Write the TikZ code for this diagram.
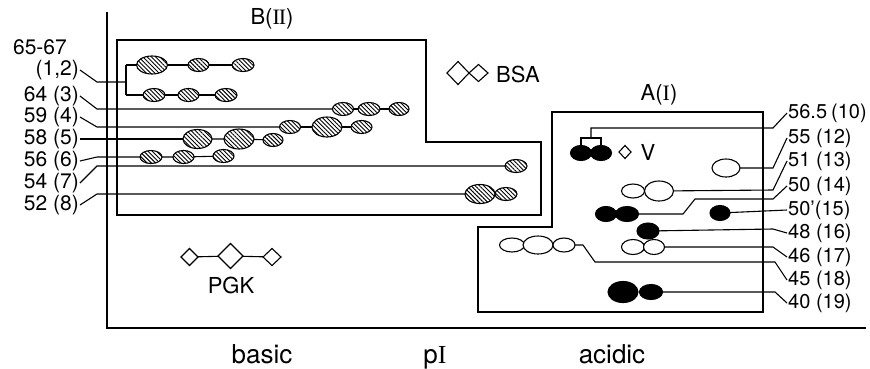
\documentclass[tikz,border=0pt]{standalone}
\usepackage{fontspec}
\setmainfont{TeX Gyre Heros}
\newfontfamily\romfont{Liberation Serif}
\usetikzlibrary{shapes.geometric,patterns.meta}
\begin{document}
\begin{tikzpicture}[x=1pt,y=-1pt,
  sz/.style 2 args={minimum width=#1pt,minimum height=#2pt},
  spot/.style={ellipse,draw,line width=1.1pt,inner sep=0pt,outer sep=0pt},
  hat/.style={spot,pattern={Lines[angle=-45,distance=3pt,line width=0.9pt]}},
  blk/.style={spot,fill=black},
  opn/.style={spot,fill=white},
  ln/.style={line width=1.1pt},
  frame/.style={line width=1.5pt},
  lab/.style={font=\fontsize{21}{21}\selectfont,inner sep=1pt},
  rlab/.style={font=\fontsize{20}{20}\selectfont,inner sep=1pt,anchor=west},
  word/.style={font=\fontsize{22}{22}\selectfont,inner sep=0pt},
  axword/.style={font=\fontsize{26}{26}\selectfont,inner sep=0pt,anchor=base},
  dia/.style={diamond,draw,line width=1.1pt,inner sep=0pt,outer sep=0pt,fill=white},
]
\useasboundingbox (0,0) rectangle (870,368);
\fill[white] (0,0) rectangle (870,368);

% axes
\coordinate (ax0) at (107,12);
\coordinate (ax1) at (107,328);
\coordinate (ax2) at (866,328);
\draw[frame] (ax0) -- (ax1) -- (ax2);

% boxes
\draw[frame] (117,40) -- (426,40) -- (426,142) -- (541,142) -- (541,215) -- (117,215) -- cycle;
\draw[frame] (552,112) -- (763,112) -- (763,312) -- (478,312) -- (478,227) -- (552,227) -- cycle;

% titles
\node[word] (tB) at (272,19) {B({\romfont I\kern-0.05em I})};
\node[word] (tA) at (659,95) {A({\romfont I})};
\node[axword] (basic) at (262,363) {basic};
\node[axword] (pI) at (435,363) {p{\romfont I}};
\node[axword] (acidic) at (612,363) {acidic};

% BSA
\node[dia,sz={22}{23}] (bsa1) at (458,73) {};
\node[dia,sz={19}{17}] (bsa2) at (478.5,73) {};
\node[word] (bsa) at (518,74) {BSA};

% PGK
\node[dia,sz={17}{17}] (p1) at (189.5,257) {};
\node[dia,sz={25}{25}] (p2) at (230.5,256) {};
\node[dia,sz={18}{17}] (p3) at (272,257) {};
\draw[ln] (p1) -- (p2) (p2) -- (p3);
\node[word] (pgk) at (231,285) {PGK};

% V
\node[dia,sz={12}{13}] (vd) at (625,152) {};
\node[word] (v) at (648,152) {V};

% ---------- B spots
\node[hat,sz={31}{18}] (a1) at (152,65) {};
\node[hat,sz={21}{13}] (a2) at (198.5,65) {};
\node[hat,sz={22}{13}] (a3) at (243,65) {};
\node[hat,sz={22}{13}] (b1) at (154,95) {};
\node[hat,sz={21}{13}] (b2) at (188.5,95) {};
\node[hat,sz={22}{13}] (b3) at (226,95) {};
\node[hat,sz={21}{13}] (c1) at (343,109) {};
\node[hat,sz={22}{13}] (c2) at (369,109) {};
\node[hat,sz={20}{13}] (c3) at (399,109) {};
\node[hat,sz={21}{13}] (d1) at (290,127) {};
\node[hat,sz={30}{20}] (d2) at (327,127) {};
\node[hat,sz={21}{13}] (d3) at (361.5,127) {};
\node[hat,sz={29}{19}] (e1) at (197.5,139) {};
\node[hat,sz={30}{20}] (e2) at (239,139) {};
\node[hat,sz={20}{13}] (e3) at (273,140) {};
\node[hat,sz={22}{13}] (f1) at (151,157) {};
\node[hat,sz={21}{13}] (f2) at (183.5,157) {};
\node[hat,sz={21}{13}] (f3) at (223.5,156) {};
\node[hat,sz={22}{13}] (g1) at (516,166) {};
\node[hat,sz={22}{13}] (h2) at (506,194) {};
\node[hat,sz={30}{19}] (h1) at (480,194) {};

\draw[ln] (a1) -- (a2) (a2) -- (a3);
\draw[ln] (b1) -- (b2) (b2) -- (b3);
\draw[ln] (c1) -- (c2) (c2) -- (c3);
\draw[ln] (d1) -- (d2) (d2) -- (d3);
\draw[ln] (e1) -- (e2) (e2) -- (e3);
\draw[ln] (f1) -- (f2) (f2) -- (f3);

% left labels
\node[lab,anchor=east] (t0) at (68,47) {65-67};
\node[lab,anchor=east] (t12) at (80,70) {(1,2)};
\node[lab,anchor=east] (t3) at (80,96) {64 (3)};
\node[lab,anchor=east] (t4) at (80,117) {59 (4)};
\node[lab,anchor=east] (t5) at (80,139) {58 (5)};
\node[lab,anchor=east] (t6) at (80,161) {56 (6)};
\node[lab,anchor=east] (t7) at (80,183) {54 (7)};
\node[lab,anchor=east] (t8) at (80,205) {52 (8)};

\coordinate (k12) at (97,82);
\coordinate (j12) at (126,82);
\coordinate (ja) at (126,65);
\coordinate (jb) at (126,95);
\coordinate (k3) at (97,109);
\coordinate (k4) at (97,127);
\coordinate (k6) at (97,157);
\coordinate (k7) at (97,166);
\coordinate (k8) at (97,194);

\draw[ln] (t12.east) -- (k12) -- (j12);
\draw[ln] (ja) -- (jb);
\draw[ln] (ja) -- (a1.west);
\draw[ln] (jb) -- (b1.west);
\draw[ln] (t3.east) -- (k3) -- (c1.west);
\draw[ln] (t4.east) -- (k4) -- (d1.west);
\draw[ln] (t5.east) -- (e1.west);
\draw[ln] (t6.east) -- (k6) -- (f1.west);
\draw[ln] (t7.east) -- (k7) -- (g1.west);
\draw[ln] (t8.east) -- (k8) -- (h1.west);

% ---------- A spots
\node[blk,sz={21}{15}] (s10a) at (581,153) {};
\node[blk,sz={21}{15}] (s10b) at (601,153) {};
\node[opn,sz={28}{18}] (s12) at (726,168) {};
\node[opn,sz={23}{14}] (s13a) at (633,191) {};
\node[opn,sz={29}{20}] (s13b) at (659,191) {};
\node[blk,sz={21}{15}] (s14a) at (606,214) {};
\node[blk,sz={23}{15}] (s14b) at (627,214) {};
\node[blk,sz={20}{15}] (s15) at (720,213) {};
\node[blk,sz={22}{16}] (s16) at (648,231) {};
\node[opn,sz={23}{15}] (s17a) at (633,247) {};
\node[opn,sz={21}{15}] (s17b) at (654,247) {};
\node[opn,sz={25}{14}] (s18a) at (512,245) {};
\node[opn,sz={30}{18}] (s18b) at (538,245) {};
\node[opn,sz={22}{14}] (s18c) at (564,245) {};
\node[blk,sz={30}{21}] (s19a) at (623,292) {};
\node[blk,sz={23}{15}] (s19b) at (651,292) {};

% right labels
\node[rlab] (r10) at (787,113) {56.5\kern0.2em(10)};
\node[rlab] (r12) at (787,138) {55 (12)};
\node[rlab] (r13) at (787,161) {51 (13)};
\node[rlab] (r14) at (787,186) {50 (14)};
\node[rlab] (r15) at (787,210) {50'(15)};
\node[rlab] (r16) at (787,233) {48 (16)};
\node[rlab] (r17) at (787,257) {46 (17)};
\node[rlab] (r18) at (787,280) {45 (18)};
\node[rlab] (r19) at (787,303) {40 (19)};

\coordinate (q3) at (591,138);
\coordinate (q4) at (591,128);
\coordinate (q5) at (773,128);
\draw[ln] (s10a.north) |- (q3) -| (s10b.north);
\draw[ln] (q3) -- (q4) -- (q5) -- (r10.west);

\coordinate (m12) at (773,168);
\draw[ln] (s12) -- (m12) -- (r12.west);

\coordinate (m13) at (773,190);
\draw[ln] (s13b) -- (m13) -- (r13.west);

\coordinate (m14a) at (683,214);
\coordinate (m14b) at (695,199);
\coordinate (m14c) at (773,199);
\draw[ln] (s14b) -- (m14a) -- (m14b) -- (m14c) -- (r14.west);

\draw[ln] (s15) -- (r15.west);

\coordinate (m16) at (773,229);
\draw[ln] (s16) -- (m16) -- (r16.west);

\coordinate (m17) at (773,247);
\draw[ln] (s17b) -- (m17) -- (r17.west);

\coordinate (m18a) at (583,245);
\coordinate (m18b) at (595,262);
\coordinate (m18c) at (775,262);
\draw[ln] (s18c) -- (m18a) -- (m18b) -- (m18c) -- (r18.west);

\coordinate (m19) at (775,292);
\draw[ln] (s19b) -- (m19) -- (r19.west);
\end{tikzpicture}
\end{document}
